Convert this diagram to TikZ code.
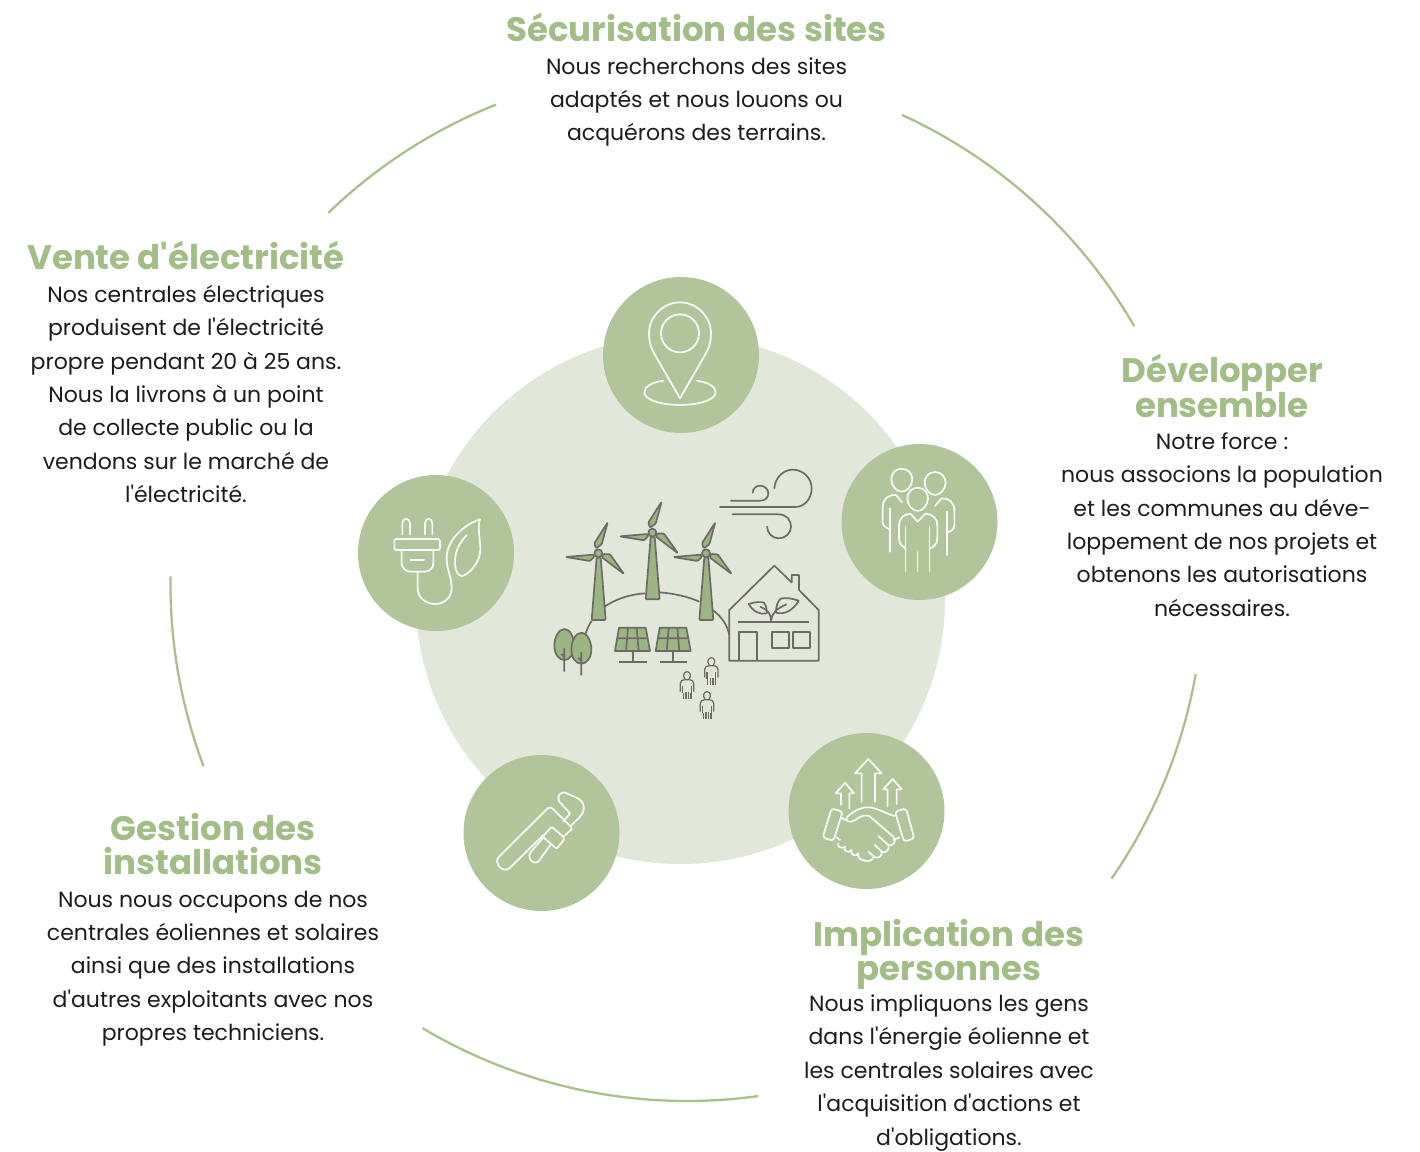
\documentclass[tikz,border=0pt]{standalone}
\usepackage{fontspec}
\setmainfont{Poppins}[Ligatures=TeXOff]
\usetikzlibrary{calc}
\definecolor{disc}{HTML}{E1E7D9}
\definecolor{badge}{HTML}{B2C59A}
\definecolor{leafg}{HTML}{A2BD85}
\definecolor{ringg}{HTML}{A9C08C}
\definecolor{inkg}{HTML}{6E6A66}
\definecolor{fillg}{HTML}{9BB680}
\definecolor{bodyk}{HTML}{1C1C1C}
\newcommand{\headfont}{\fontsize{34}{33.8}\selectfont\bfseries}
\tikzset{
  bigdisc/.style={circle,fill=disc,minimum size=529pt,inner sep=0pt},
  badgedisc/.style={circle,fill=badge,minimum size=156pt,inner sep=0pt},
  ringarc/.style={draw=ringg,line width=2.3pt},
  wicon/.style={draw=white,line width=1.6pt,line join=round,line cap=round},
  gicon/.style={draw=inkg,line width=1.7pt,line join=round},
  gfill/.style={gicon,fill=fillg},
  titletext/.style={inner sep=0pt,align=center,text=leafg,font=\headfont},
  bodytext/.style={inner sep=0pt,align=center,text=bodyk,font=\fontsize{22}{33.4}\selectfont},
}
\newcommand{\ringpart}[2]{\draw[ringarc] ($(ringc)+(#1:516.5pt)$) arc[start angle=#1,end angle=#2,radius=516.5pt];}
\newcommand{\windturbine}[2]{%
 \begin{scope}[shift={(#1,#2)}]
  \draw[gfill,rounded corners=1pt] (-5,12) -- (-20,200) -- (22,200) -- (7,12) -- cycle;
  \draw[gfill,rounded corners=1pt] (-7,-15) -- (-12,-30) -- (28,-93) -- (10,-27) -- cycle;
  \draw[gfill,rounded corners=1pt] (-15,4) -- (-98,11) -- (-25,23) -- (-12,10) -- cycle;
  \draw[gfill,rounded corners=1pt] (15,2) -- (35,3) -- (77,62) -- (11,12) -- cycle;
  \draw[gfill] (0,0) circle[radius=12];
 \end{scope}}
\newcommand{\eggtree}[2]{%
 \begin{scope}[shift={(#1,#2)}]
  \draw[gfill] (0,-48) .. controls (18,-48) and (30,-20) .. (30,2) .. controls (30,28) and (16,45) .. (0,45) .. controls (-16,45) and (-30,28) .. (-30,2) .. controls (-30,-20) and (-18,-48) .. (0,-48) -- cycle;
  \draw[gicon] (0,10) -- (0,80) (-9,27) -- (0,36);
 \end{scope}}
\newcommand{\tinyperson}[2]{%
 \begin{scope}[shift={(#1,#2)}]
  \draw[gicon,line width=1.2pt] (-6,-18) .. controls (-14,-26) and (-10,-40) .. (0,-40) .. controls (10,-40) and (14,-26) .. (6,-18);
  \draw[gicon,line width=1.2pt] (-20,20) -- (-20,-5) .. controls (-20,-12) and (-14,-16) .. (-7,-16) -- (7,-16) .. controls (14,-16) and (20,-12) .. (20,-5) -- (20,20);
  \draw[gicon,line width=1.2pt] (-13,2) -- (-13,25) (13,2) -- (13,25) (-11,25) -- (-11,42) (-3,22) -- (-3,42) (5,22) -- (5,42) (12,25) -- (12,42);
 \end{scope}}
\begin{document}
\begin{tikzpicture}[x=1pt,y=-1pt]
\useasboundingbox (0,0) rectangle (1420,1151);
\coordinate (ringc) at (687,584.5);
\ringpart{65.4}{30}
\ringpart{-10}{-34.7}
\ringpart{-82.1}{-120.8}
\ringpart{200.6}{179.1}
\ringpart{134}{111.7}

\node[bigdisc] (disc) at (680.5,599.5) {};
\node[badgedisc] (b1) at (681,355) {};
\node[badgedisc] (b2) at (919.5,522) {};
\node[badgedisc] (b3) at (866.5,811) {};
\node[badgedisc] (b4) at (541.5,833) {};
\node[badgedisc] (b5) at (436,553) {};

% central scene
\begin{scope}[shift={(540,450)},x=0.33333pt,y=-0.33333pt]
 \draw[gicon] (135,555) .. controls (141,538) and (147,525) .. (155,512);
 \draw[gicon] (193,470) .. controls (230,446) and (270,433) .. (315,430);
 \draw[gicon] (358,427) .. controls (400,430) and (445,440) .. (478,455);
 \draw[gicon] (518,480) .. controls (545,500) and (562,525) .. (568,555);
 \windturbine{175}{310}
 \windturbine{337}{248}
 \windturbine{498}{310}
 \eggtree{73}{585}
 \eggtree{124}{596}
 % panels
 \foreach \dx/\dd in {0/0,122/1}{
  \begin{scope}[shift={(\dx,0)}]
   \draw[gfill] (237,533) -- (317,533) -- (330,603) -- (225,603) -- cycle;
   \draw[gicon] (231,565) -- (323,565) (264,533) -- (258,603) (290,533) -- (296,603);
   \draw[gicon] (278,603) -- (278,635) (237,635) -- (320,635);
  \end{scope}}
 % house
 \draw[gicon] (568,632) -- (568,480) -- (703,347) -- (755,397) -- (755,375) -- (777,375) -- (777,420) -- (836,480) -- (836,632) -- cycle;
 \draw[gicon] (595,516) -- (808,516);
 \draw[gicon] (598,632) -- (598,546) -- (650,546) -- (650,632);
 \draw[gicon] (696,545) rectangle (746,594);
 \draw[gicon] (758,545) rectangle (809,594);
 \draw[gicon] (626,462) .. controls (645,455) and (665,455) .. (672,458) .. controls (680,468) and (680,480) .. (680,490) .. controls (660,495) and (640,485) .. (626,462) -- cycle;
 \draw[gicon] (776,452) .. controls (755,445) and (735,442) .. (722,446) .. controls (712,455) and (708,470) .. (708,488) .. controls (735,495) and (760,480) .. (776,452) -- cycle;
 \draw[gicon] (693,512) .. controls (693,495) and (688,482) .. (660,470);
 \draw[gicon] (693,512) .. controls (695,490) and (710,475) .. (740,463);
 % wind
 \draw[gicon,line cap=round] (573,152) -- (662,152) .. controls (676,152) and (685,142) .. (685,130) .. controls (685,116) and (672,107) .. (660,107) .. controls (648,107) and (638,117) .. (638,128);
 \draw[gicon,line cap=round] (540,171) -- (765,171) .. controls (795,171) and (815,145) .. (815,115) .. controls (815,85) and (790,59) .. (758,59) .. controls (728,59) and (705,85) .. (703,115);
 \draw[gicon,line cap=round] (578,193) -- (715,193) .. controls (740,193) and (753,210) .. (753,230) .. controls (753,250) and (735,265) .. (717,265) .. controls (697,265) and (682,250) .. (681,230);
 % people
 \tinyperson{441}{705}
 \tinyperson{514}{663}
 \tinyperson{501}{765}
\end{scope}

% pin and group icons
\begin{scope}[shift={(600,270)},x=0.33333pt,y=-0.33333pt]
 \draw[wicon] (240,385) -- (165,255) .. controls (150,230) and (147,210) .. (147,190) .. controls (147,140) and (190,97) .. (240,97) .. controls (290,97) and (333,140) .. (333,190) .. controls (333,210) and (330,230) .. (315,255) -- cycle;
 \draw[wicon] (240,190) circle[radius=57];
 \draw[wicon] (190,332) .. controls (155,337) and (133,350) .. (133,367) .. controls (133,390) and (185,405) .. (240,405) .. controls (295,405) and (347,390) .. (347,367) .. controls (347,350) and (325,337) .. (290,332);
 % group
 \draw[wicon] (905,596) .. controls (925,596) and (937,612) .. (937,628) .. controls (937,648) and (920,665) .. (905,665) .. controls (890,665) and (874,648) .. (874,628) .. controls (874,612) and (885,596) .. (905,596) -- cycle;
 \draw[wicon] (1005,606) .. controls (1025,606) and (1037,622) .. (1037,638) .. controls (1037,658) and (1020,675) .. (1005,675) .. controls (990,675) and (974,658) .. (974,638) .. controls (974,622) and (985,606) .. (1005,606) -- cycle;
 \draw[wicon] (953,653) .. controls (972,653) and (984,669) .. (984,685) .. controls (984,705) and (968,723) .. (953,723) .. controls (938,723) and (922,705) .. (922,685) .. controls (922,669) and (934,653) .. (953,653) -- cycle;
 \draw[wicon] (906,697) -- (888,675) .. controls (870,672) and (848,685) .. (848,712) -- (848,760) .. controls (850,768) and (860,775) .. (870,778);
 \draw[wicon] (870,715) -- (870,845);
 \draw[wicon] (1005,708) -- (1025,685) .. controls (1045,684) and (1063,695) .. (1063,722) -- (1063,765) .. controls (1063,778) and (1052,785) .. (1042,787);
 \draw[wicon] (1041,725) -- (1041,855);
 \draw[wicon] (917,835) .. controls (905,828) and (897,820) .. (897,805) -- (897,765) .. controls (897,745) and (912,732) .. (932,731) -- (953,755) -- (976,731) .. controls (997,732) and (1012,745) .. (1012,765) -- (1012,805) .. controls (1012,822) and (1000,832) .. (988,836);
 \draw[wicon] (917,770) -- (917,903) (953,843) -- (953,903) (988,770) -- (988,903);
\end{scope}

% plug and wrench icons
\begin{scope}[shift={(350,470)},x=0.33333pt,y=-0.33333pt]
 \draw[wicon] (157,193) -- (157,160) .. controls (157,142) and (180,142) .. (180,160) -- (180,193);
 \draw[wicon] (225,193) -- (225,160) .. controls (225,142) and (247,142) .. (247,160) -- (247,193);
 \draw[wicon,rounded corners=2pt] (133,207) rectangle (270,240);
 \draw[wicon] (155,240) -- (155,280) .. controls (155,295) and (170,305) .. (182,305) -- (223,305) .. controls (238,305) and (250,295) .. (250,280) -- (250,240);
 \draw[wicon] (182,241) -- (222,241) (182,270) -- (222,270);
 \draw[wicon] (203,305) -- (203,355) .. controls (203,385) and (230,402) .. (255,402) .. controls (285,402) and (305,380) .. (305,355) .. controls (305,320) and (290,300) .. (290,265) .. controls (290,210) and (340,165) .. (390,148) .. controls (380,180) and (395,220) .. (390,250) .. controls (385,285) and (350,318) .. (335,318) .. controls (315,315) and (312,280) .. (318,250) .. controls (323,228) and (338,208) .. (350,195);
 % wrench
 \draw[wicon] (640,1100) -- (665,1078) .. controls (666,1074) and (665,1072) .. (663,1070) -- (610,1018) .. controls (603,1011) and (597,1011) .. (590,1018) -- (445,1162) .. controls (432,1180) and (458,1210) .. (478,1195) -- (580,1095);
 \draw[wicon,rounded corners=2pt] (578,1100) -- (605,1070) -- (645,1105) -- (620,1137) -- cycle;
 \draw[wicon] (578,1105) -- (543,1145) .. controls (530,1162) and (545,1185) .. (565,1175) -- (601,1125);
 \draw[wicon] (640,1055) -- (660,1030) -- (628,995) .. controls (618,980) and (632,960) .. (650,970) -- (680,983) .. controls (705,995) and (708,1020) .. (690,1040) -- (665,1065);
\end{scope}

% handshake icon
\begin{scope}[shift={(780,730)},x=0.33333pt,y=-0.33333pt]
 \draw[wicon] (245,215) -- (245,130) -- (225,130) -- (265,87) -- (305,130) -- (285,130) -- (285,215);
 \draw[wicon] (183,225) -- (183,190) -- (167,190) -- (195,158) -- (222,190) -- (208,190) -- (208,235);
 \draw[wicon] (323,228) -- (323,178) -- (310,178) -- (338,147) -- (365,178) -- (350,178) -- (350,222);
 \draw[wicon,rounded corners=3pt] (155,235) -- (188,245) -- (160,333) -- (128,322) -- cycle;
 \draw[wicon,rounded corners=3pt] (345,245) -- (378,235) -- (403,325) -- (372,335) -- cycle;
 \draw[wicon] (343,258) .. controls (315,250) and (290,232) .. (262,232) .. controls (238,232) and (215,248) .. (200,262) .. controls (194,272) and (210,282) .. (225,270) .. controls (240,258) and (255,254) .. (268,258) -- (340,320) .. controls (352,335) and (338,350) .. (325,345) -- (295,318);
 \draw[wicon] (182,262) -- (198,270) (170,322) -- (180,330);
 \draw[wicon] (325,345) .. controls (330,360) and (315,372) .. (305,365) -- (285,345);
 \draw[wicon] (305,365) .. controls (308,380) and (292,388) .. (282,380) -- (265,365);
 \draw[wicon] (282,380) .. controls (275,395) and (262,395) .. (250,390);
 \draw[wicon] (358,322) -- (340,330);
 \draw[wicon] (175,340) .. controls (170,350) and (185,358) .. (195,350) .. controls (188,362) and (205,372) .. (215,360) .. controls (210,375) and (228,382) .. (235,370) .. controls (232,385) and (245,392) .. (255,392);
\end{scope}

% texts
\node[titletext,anchor=base] (t1) at (696.5,41) {Sécurisation des sites};
\node[bodytext,anchor=north] (d1) at (696.5,50.5) {\strut Nous recherchons des sites\\adaptés et nous louons ou\\acquérons des terrains.};
\node[titletext,anchor=base] (t2) at (186,269) {Vente d'électricité};
\node[bodytext,anchor=north] (d2) at (186,278.8) {\strut Nos centrales électriques\\produisent de l'électricité\\propre pendant 20 à 25 ans.\\Nous la livrons à un point\\de collecte public ou la\\vendons sur le marché de\\l'électricité.};
\node[titletext,anchor=north] (t3) at (1222,353.5) {Développer\\ensemble};
\node[bodytext,anchor=north] (d3) at (1222,425.8) {\strut Notre force :\\nous associons la population\\et les communes au déve-\\loppement de nos projets et\\obtenons les autorisations\\nécessaires.};
\node[titletext,anchor=north] (t4) at (213,813) {Gestion des\\installations};
\node[bodytext,anchor=north] (d4) at (213,883.5) {\strut Nous nous occupons de nos\\centrales éoliennes et solaires\\ainsi que des installations\\d'autres exploitants avec nos\\propres techniciens.};
\node[titletext,anchor=north] (t5) at (949,918.8) {Implication des\\personnes};
\node[bodytext,anchor=north] (d5) at (949,988) {\strut Nous impliquons les gens\\dans l'énergie éolienne et\\les centrales solaires avec\\l'acquisition d'actions et\\d'obligations.};
\end{tikzpicture}
\end{document}
